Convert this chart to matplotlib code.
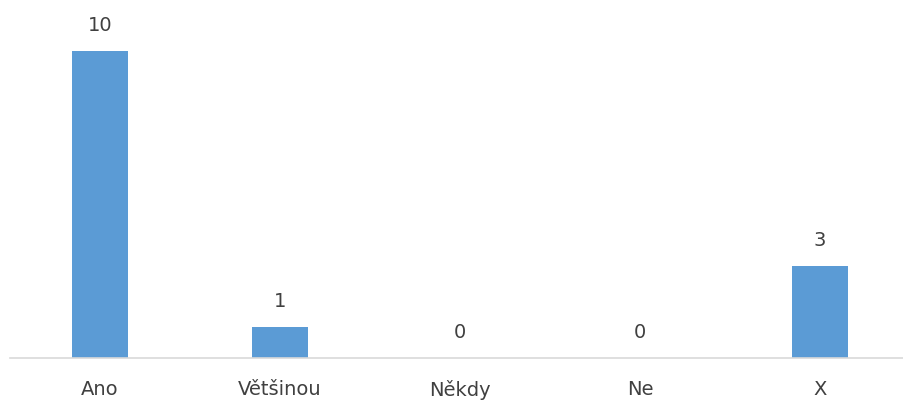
import matplotlib.pyplot as plt

categories = ['Ano', 'Většinou', 'Někdy', 'Ne', 'X']
counts = [10, 1, 0, 0, 3]

W, H, DPI = 904, 403, 100
fig = plt.figure(figsize=(W / DPI, H / DPI), dpi=DPI)

# axes placed in pixels: baseline at y=358, 180 px per category starting at x=10
px_per_unit = 30.7
ymax = 11
bottom_px = 358
height_px = ymax * px_per_unit
ax = fig.add_axes([10 / W, (H - bottom_px) / H, 900 / W, height_px / H])

text_color = '#404040'
bars = ax.bar(range(len(categories)), counts, width=0.31, color='#5B9BD5')

for i, v in enumerate(counts):
    ax.annotate(str(v), (i, v), xytext=(0, 11.5), textcoords='offset points',
                ha='center', va='bottom', fontsize=14, color=text_color)

ax.set_xlim(-0.5, len(categories) - 0.5)
ax.set_ylim(0, ymax)
ax.set_xticks(range(len(categories)))
ax.set_xticklabels(categories, fontsize=14, color=text_color)
ax.tick_params(axis='x', length=0, pad=15.5)
ax.set_yticks([])

for side in ['top', 'right', 'left']:
    ax.spines[side].set_visible(False)
ax.spines['bottom'].set_color('#D9D9D9')
ax.spines['bottom'].set_linewidth(1.2)

fig.savefig('out.png', dpi=DPI)
